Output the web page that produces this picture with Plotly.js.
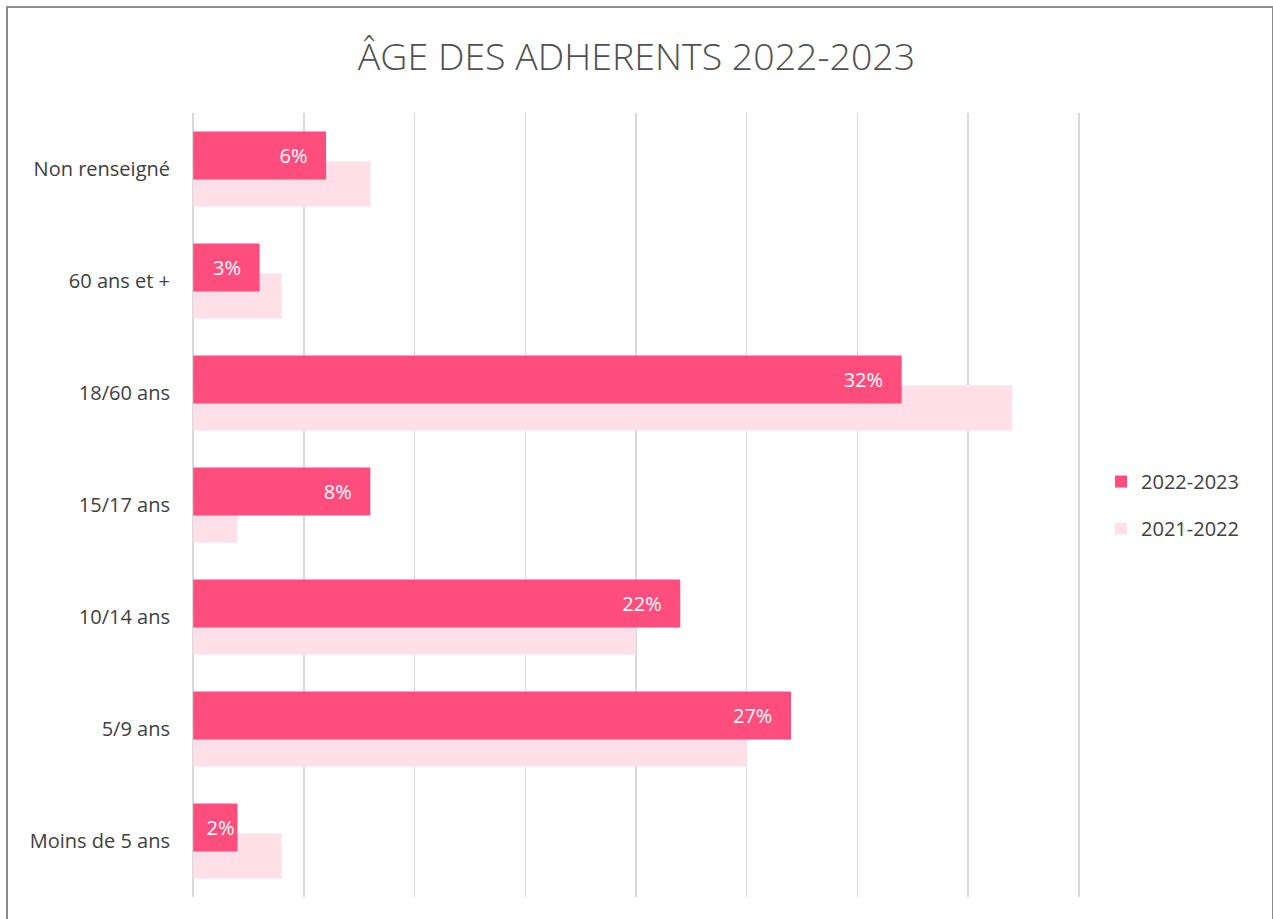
<!DOCTYPE html>
<html>
<head>
<meta charset="utf-8">
<script src="https://cdn.plot.ly/plotly-3.0.1.min.js"></script>
<style>
  html, body { margin: 0; padding: 0; background: #fff; overflow: hidden; }
  #chart { position: absolute; left: 0; top: 0; width: 1273px; height: 919px; }
  #frame { position: absolute; left: 6px; top: 6px; width: 1264px; height: 1000px;
           border: 2px solid #8c8c8c; pointer-events: none; }
</style>
</head>
<body>
<div id="chart"></div>
<div id="frame"></div>
<script>
const categories = ["Moins de 5 ans", "5/9 ans", "10/14 ans", "15/17 ans", "18/60 ans", "60 ans et +", "Non renseigné"];
const values2022_2023 = [2, 27, 22, 8, 32, 3, 6];
const values2021_2022 = [4, 25, 20, 2, 37, 4, 8];
const seriesNames = ["2022-2023", "2021-2022"];
const xTicks = [0, 5, 10, 15, 20, 25, 30, 35, 40];

const FONT = "Open Sans, Noto Sans, sans-serif";
const pad = "\u00a0\u00a0\u00a0";

const traceLight = {
  type: "bar", orientation: "h",
  name: seriesNames[1], legendgroup: "b", legendrank: 2,
  y: categories, x: values2021_2022,
  offset: -0.335, width: 0.405,
  marker: { color: "#FFE0E8" },
  hoverinfo: "skip"
};
const traceDark = {
  type: "bar", orientation: "h",
  name: seriesNames[0], legendgroup: "a", legendrank: 1,
  y: categories, x: values2022_2023,
  offset: -0.094, width: 0.429,
  marker: { color: "#FF4D7D" },
  text: values2022_2023.map(v => v + "%" + (v < 3 ? "" : pad)),
  textposition: "inside", insidetextanchor: "end",
  constraintext: "none", textangle: 0,
  textfont: { family: FONT, size: 20, color: "#ffffff" },
  hoverinfo: "skip"
};

const layout = {
  width: 1273, height: 919,
  paper_bgcolor: "#ffffff", plot_bgcolor: "#ffffff",
  margin: { l: 191, r: 192, t: 113, b: 22 },
  barmode: "overlay",
  title: {
    text: "ÂGE DES ADHERENTS 2022-2023",
    font: { family: FONT, size: 37.5, color: "#505050", weight: 300 },
    x: 0.5, xanchor: "center", y: 0.938, yanchor: "middle", yref: "container"
  },
  xaxis: {
    range: [-0.1, 40.1], tickvals: xTicks, showticklabels: false,
    showgrid: true, gridcolor: "#d9d9d9", gridwidth: 1.5,
    zeroline: false, showline: false, fixedrange: true
  },
  yaxis: {
    type: "category", categoryorder: "array", categoryarray: categories,
    range: [-0.5, 6.5], showgrid: false, zeroline: false, showline: false,
    ticks: "outside", ticklen: 16, tickcolor: "rgba(0,0,0,0)",
    tickfont: { family: FONT, size: 20, color: "#404040" }, fixedrange: true
  },
  showlegend: true,
  legend: {
    x: 1.0225, xanchor: "left", y: 0.5, yanchor: "middle",
    traceorder: "grouped", tracegroupgap: 18,
    font: { family: FONT, size: 20, color: "#404040" },
    bgcolor: "rgba(0,0,0,0)"
  }
};

Plotly.newPlot("chart", [traceLight, traceDark], layout, { displayModeBar: false, staticPlot: true });
</script>
</body>
</html>
